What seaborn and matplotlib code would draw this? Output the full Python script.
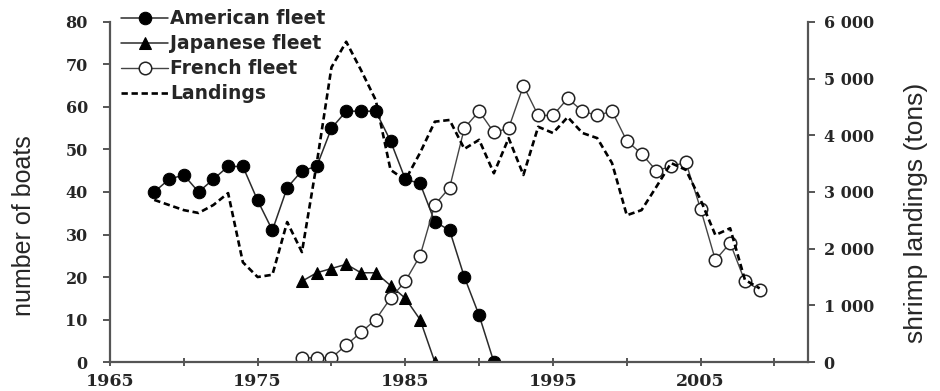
"""
Fleet sizes (American, Japanese, French) and shrimp landings, 1968-2009.
Two y axes: number of boats (left) and landings in tons (right).
"""

import matplotlib.pyplot as plt
import pandas as pd
import seaborn as sns

# --- data ---
us_years = list(range(1968, 1992))
us_boats = [40, 43, 44, 40, 43, 46, 46, 38, 31, 41,
            45, 46, 55, 59, 59, 59, 52, 43, 42, 33,
            31, 20, 11, 0]

jp_years = list(range(1978, 1988))
jp_boats = [19, 21, 22, 23, 21, 21, 18, 15, 10, 0]

fr_years = list(range(1978, 2010))
fr_boats = [1, 1, 1, 4, 7, 10, 15, 19, 25, 37,
            41, 55, 59, 54, 55, 65, 58, 58, 62, 59,
            58, 59, 52, 49, 45, 46, 47, 36, 24, 28,
            19, 17]

land_years = list(range(1968, 2010))
landings = [2860, 2770, 2680, 2630, 2770, 2980, 1760, 1500, 1540, 2470,
            1940, 3500, 5200, 5650, 5150, 4620, 3390, 3210, 3690, 4240,
            4270, 3760, 3920, 3330, 3950, 3300, 4150, 4040, 4320, 4040,
            3950, 3510, 2590, 2680, 3090, 3510, 3390, 2860, 2240, 2360,
            1450, 1300]

x_ticks = [1965, 1975, 1985, 1995, 2005]
left_ticks = [0, 10, 20, 30, 40, 50, 60, 70, 80]
right_ticks = [0, 1000, 2000, 3000, 4000, 5000, 6000]
right_tick_labels = ["0", "1 000", "2 000", "3 000", "4 000", "5 000", "6 000"]

us = pd.DataFrame({"year": us_years, "boats": us_boats})
jp = pd.DataFrame({"year": jp_years, "boats": jp_boats})
fr = pd.DataFrame({"year": fr_years, "boats": fr_boats})
ld = pd.DataFrame({"year": land_years, "tons": landings})

sns.set_theme(style="white")
plt.rcParams["font.family"] = ["Liberation Sans", "DejaVu Sans"]

fig = plt.figure(figsize=(9.4, 3.91), dpi=100)
ax = fig.add_axes([0.117, 0.074, 0.743, 0.870])
ax2 = ax.twinx()

line_col = "#2b2b2b"
sns.lineplot(data=us, x="year", y="boats", ax=ax, color=line_col, lw=1.1,
             marker="o", markersize=9, markerfacecolor="black",
             markeredgecolor="black", label="American fleet")
sns.lineplot(data=jp, x="year", y="boats", ax=ax, color=line_col, lw=1.1,
             marker="^", markersize=9, markerfacecolor="black",
             markeredgecolor="black", label="Japanese fleet")
sns.lineplot(data=fr, x="year", y="boats", ax=ax, color="#444444", lw=1.0,
             marker="o", markersize=9, markerfacecolor="white",
             markeredgecolor="#222222", markeredgewidth=1.1,
             label="French fleet")
sns.lineplot(data=ld, x="year", y="tons", ax=ax2, color="black", lw=1.9,
             dashes=False, label="Landings")
ax2.lines[0].set_dashes((2.4, 1.4))

ax.set_xlim(1965, 2012.3)
ax.set_ylim(0, 80)
ax2.set_ylim(0, 6000)

ax.set_xticks(x_ticks)
ax.set_xticks(list(range(1970, 2011, 10)), minor=True)
ax.set_yticks(left_ticks)
ax2.set_yticks(right_ticks)
ax2.set_yticklabels(right_tick_labels)

# wide bold serif digits, as in the reference
tick_family = ["DejaVu Serif"]
for lab in ax.get_xticklabels():
    lab.set_fontproperties({"family": tick_family, "weight": "bold", "size": 12.5})
for lab in ax.get_yticklabels() + ax2.get_yticklabels():
    lab.set_fontproperties({"family": tick_family, "weight": "bold", "size": 11.5})

spine_col = "#555555"
for a in (ax, ax2):
    for side in ("left", "right", "bottom"):
        a.spines[side].set_color(spine_col)
        a.spines[side].set_linewidth(1.6)
    a.spines["top"].set_visible(False)
ax.spines["right"].set_visible(False)
ax2.spines["left"].set_visible(False)
ax2.spines["bottom"].set_visible(False)

ax.tick_params(axis="x", which="both", direction="inout", length=6,
               width=1.4, color=spine_col, pad=5, bottom=True)
ax.tick_params(axis="y", direction="out", length=5, width=1.4,
               color=spine_col, pad=11, left=True)
ax2.tick_params(axis="y", direction="out", length=5, width=1.4,
                color=spine_col, pad=6, right=True)

label_font = ["Liberation Sans", "DejaVu Sans"]
ax.set_xlabel("")
ax.set_ylabel("number of boats", family=label_font, fontsize=18,
              labelpad=21, y=0.40)
ax2.set_ylabel("shrimp landings (tons)", family=label_font, fontsize=19,
               labelpad=22, y=0.44)

# one legend holding all four series, top left, no frame
h1, l1 = ax.get_legend_handles_labels()
h2, l2 = ax2.get_legend_handles_labels()
ax.get_legend().remove()
ax2.get_legend().remove()
ax2.legend(h1 + h2, l1 + l2, loc="upper left", bbox_to_anchor=(0.0, 1.07),
           frameon=False, handlelength=2.5, handletextpad=0.1,
           labelspacing=0.32, borderaxespad=0.2,
           prop={"family": ["DejaVu Sans"], "weight": "bold", "size": 13.5})

fig.savefig("out.png", dpi=100)
